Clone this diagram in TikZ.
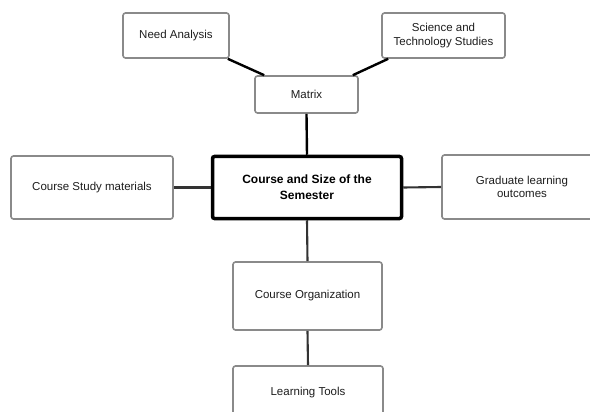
\documentclass[tikz,border=0pt]{standalone}
\usepackage{fontspec}
\setmainfont{Liberation Sans}
\definecolor{boxgray}{HTML}{8A8A8A}
\definecolor{linegray}{HTML}{333333}
\definecolor{textgray}{HTML}{1E1E1E}
\begin{document}
\begin{tikzpicture}[x=1pt,y=-1pt,
  box/.style={draw=boxgray,line width=1.6pt,rounded corners=2.5pt,fill=white,
    inner sep=0pt,align=center,text=textgray,font=\fontsize{11.5}{13.5}\selectfont},
  mainbox/.style={draw=black,line width=3.5pt,rounded corners=2pt,fill=white,
    inner sep=0pt,align=center,font=\fontsize{12}{16}\selectfont\bfseries},
  link/.style={draw=linegray,line width=2.1pt},
  toplink/.style={draw=black,line width=2.4pt}]
\useasboundingbox (0,0) rectangle (590,412);
\clip (0,0) rectangle (590,412);
\fill[white] (0,0) rectangle (590,412);
\node[box,minimum width=106pt,minimum height=45pt] (na) at (176,35.5) {Need Analysis};
\node[box,minimum width=123pt,minimum height=45pt,font=\fontsize{11.5}{14}\selectfont] (sc) at (443.5,35.5) {Science and\\Technology Studies};
\node[box,minimum width=103pt,minimum height=37pt] (mx) at (306.5,94.5) {Matrix};
\node[box,minimum width=162pt,minimum height=63pt] (cm) at (92,187.5) {Course Study materials};
\node[mainbox,minimum width=189pt,minimum height=62pt] (cs) at (307,187.5) {Course and Size of the\\Semester};
\node[box,minimum width=160pt,minimum height=64pt] (gl) at (522,187) {Graduate learning\\outcomes};
\node[box,minimum width=149pt,minimum height=68pt] (co) at (307.5,296) {Course Organization};
\node[box,minimum width=150pt,minimum height=54pt] (lt) at (308,393) {Learning Tools};
\draw[toplink] ([xshift=-2pt]na.south east) -- ([xshift=10pt]mx.north west);
\draw[toplink] ([xshift=7pt]sc.south west) -- ([xshift=-6pt]mx.north east);
\draw[toplink] (mx.south) -- (cs.north);
\draw[link] (cm.east) -- (cs.west);
\draw[link] (cs.east) -- (gl.west);
\draw[link] (cs.south) -- (co.north);
\draw[link] (co.south) -- (lt.north);
\end{tikzpicture}
\end{document}
